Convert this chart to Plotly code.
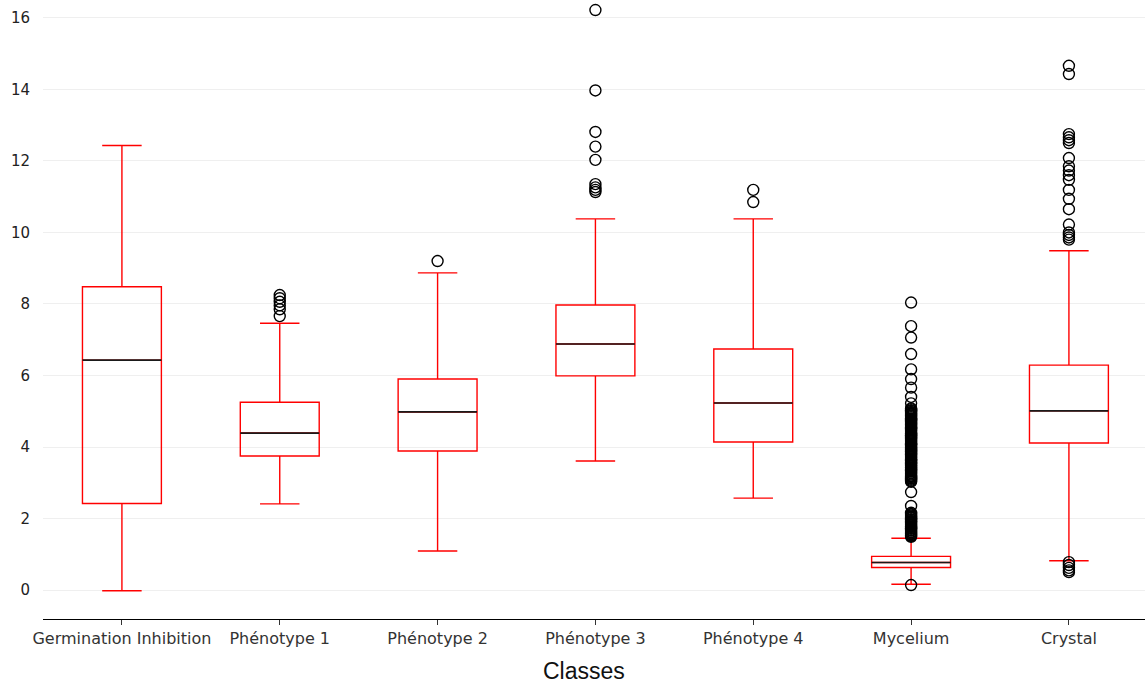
import plotly.graph_objects as go

categories = ["Germination Inhibition", "Phénotype 1", "Phénotype 2", "Phénotype 3",
              "Phénotype 4", "Mycelium", "Crystal"]
lower_whisker = [-0.02, 2.41, 1.09, 3.61, 2.57, 0.16, 0.82]
q1 = [2.42, 3.75, 3.89, 5.99, 4.14, 0.63, 4.11]
median = [6.43, 4.39, 4.98, 6.88, 5.23, 0.77, 5.01]
q3 = [8.48, 5.25, 5.90, 7.97, 6.74, 0.94, 6.29]
upper_whisker = [12.43, 7.46, 8.87, 10.38, 10.38, 1.45, 9.49]

outliers = {
    "Germination Inhibition": [],
    "Phénotype 1": [8.25, 8.16, 8.06, 7.96, 7.85, 7.66],
    "Phénotype 2": [9.20],
    "Phénotype 3": [16.22, 13.97, 12.81, 12.40, 12.03, 11.35, 11.26, 11.19, 11.13],
    "Phénotype 4": [11.19, 10.85],
    "Mycelium": [8.04, 7.38, 7.06, 6.60, 6.17, 5.90, 5.66, 5.40, 5.22,
                 5.08, 5.06, 5.03, 5.01, 4.98, 4.95, 4.93, 4.91, 4.88, 4.86,
                 4.83, 4.80, 4.78, 4.76, 4.73, 4.70, 4.68, 4.66, 4.63, 4.61,
                 4.58, 4.55, 4.53, 4.51, 4.48, 4.46, 4.43, 4.40, 4.38, 4.36,
                 4.33, 4.31, 4.28, 4.25, 4.23, 4.21, 4.18, 4.16, 4.13, 4.10,
                 4.08, 4.06, 4.03, 4.01, 3.98, 3.95, 3.93, 3.91, 3.88, 3.86,
                 3.83, 3.80, 3.78, 3.76, 3.73, 3.71, 3.68, 3.65, 3.63, 3.61,
                 3.58, 3.56, 3.53, 3.50, 3.48, 3.46, 3.43, 3.41, 3.38, 3.35,
                 3.33, 3.31, 3.28, 3.26, 3.23, 3.20, 3.18, 3.16, 3.13, 3.11,
                 3.08, 3.05, 3.03, 2.74, 2.35,
                 2.16, 2.13, 2.11, 2.08, 2.06, 2.03, 2.01, 1.98, 1.96, 1.93,
                 1.91, 1.88, 1.86, 1.83, 1.81, 1.78, 1.76, 1.73, 1.71, 1.68,
                 1.66, 1.63, 1.61, 1.58, 1.56, 1.53, 1.51, 1.49, 0.14],
    "Crystal": [14.66, 14.43, 12.75, 12.66, 12.58, 12.50, 12.08, 11.85, 11.73,
                11.60, 11.47, 11.19, 10.94, 10.65, 10.22, 10.00, 9.93, 9.86,
                9.80, 0.78, 0.70, 0.62, 0.55, 0.50],
}
y_ticks = [0, 2, 4, 6, 8, 10, 12, 14, 16]

positions = list(range(len(categories)))
BOX_W = 0.5
FONT = "DejaVu Sans"

fig = go.Figure()
fig.add_trace(go.Box(
    x=positions, q1=q1, median=median, q3=q3,
    lowerfence=lower_whisker, upperfence=upper_whisker,
    width=BOX_W, whiskerwidth=0.5,
    line=dict(color="#ff0000", width=1.4),
    fillcolor="rgba(0,0,0,0)", boxpoints=False, showlegend=False,
    hoverinfo="skip",
))

# black median lines
mx, my = [], []
for p, m in zip(positions, median):
    mx += [p - BOX_W / 2, p + BOX_W / 2, None]
    my += [m, m, None]
fig.add_trace(go.Scatter(x=mx, y=my, mode="lines",
                         line=dict(color="#1a1a1a", width=1.7),
                         showlegend=False, hoverinfo="skip"))

# outliers
ox, oy = [], []
for p, c in zip(positions, categories):
    for v in outliers[c]:
        ox.append(p)
        oy.append(v)
fig.add_trace(go.Scatter(x=ox, y=oy, mode="markers", cliponaxis=False,
                         marker=dict(symbol="circle-open", size=11, color="#000000",
                                     line=dict(width=1.4)),
                         showlegend=False))

fig.update_layout(
    width=1145, height=684,
    margin=dict(l=43, r=0, t=0, b=65),
    plot_bgcolor="white", paper_bgcolor="white",
    font=dict(family=FONT, color="#333333", size=15),
    xaxis=dict(
        tickmode="array", tickvals=positions, ticktext=categories,
        range=[-0.5, 6.482], showgrid=False, zeroline=False,
        showline=True, linecolor="#000000", linewidth=1.3,
        ticks="outside", ticklen=5, tickcolor="#333333", tickwidth=1,
        tickfont=dict(size=16, family=FONT, color="#333333"),
    ),
    yaxis=dict(
        tickmode="array", tickvals=y_ticks,
        range=[-0.81, 16.5], showgrid=True, gridcolor="#efefef", gridwidth=1.3,
        zeroline=False, showline=False,
        ticks="outside", ticklen=9, tickcolor="rgba(0,0,0,0)",
        tickfont=dict(size=15, family=FONT, color="#222222"),
    ),
    annotations=[dict(
        text="Classes", xref="paper", yref="paper", x=0.491, y=-0.084,
        xanchor="center", yanchor="middle", showarrow=False,
        font=dict(size=23, family="Liberation Sans", color="#111111"),
    )],
)

fig.write_html(
    "out.html",
    config={"displayModeBar": False},
    post_script="document.body.style.margin='0';document.body.style.overflow='hidden';",
)
